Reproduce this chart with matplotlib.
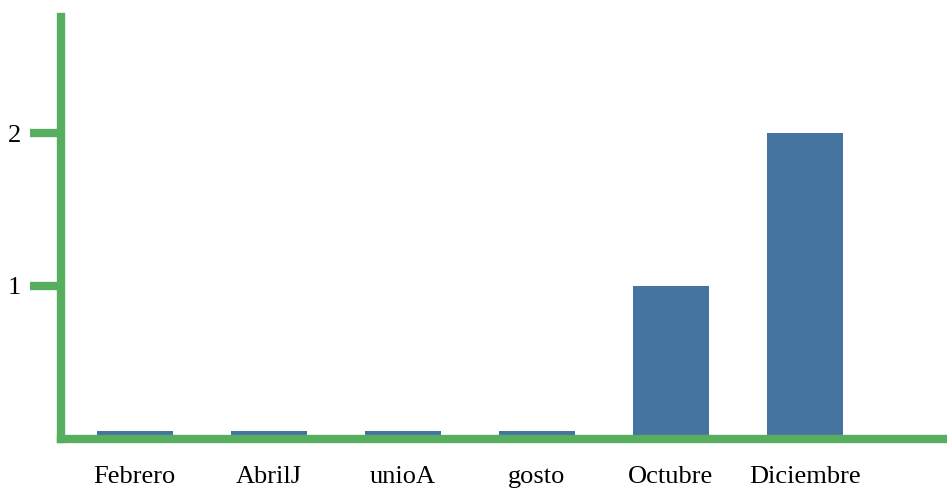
import matplotlib
matplotlib.use("Agg")
import matplotlib.pyplot as plt

categories = ["Febrero", "AbrilJ", "unioA", "gosto", "Octubre", "Diciembre"]
values = [0.05, 0.05, 0.05, 0.05, 1, 2]
yticks = [1, 2]

green = "#56ae5e"
blue = "#44749f"

fig = plt.figure(figsize=(9.47, 4.95), dpi=100)
ax = fig.add_axes([61/947, 1 - 438.5/495, 1 - 61/947, (438.5 - 17)/495])
x = list(range(len(categories)))
ax.bar(x, values, width=0.567, color=blue, zorder=1)
ax.set_xlim(-0.55, 6.06)
ax.set_ylim(0, 2.76)
for s in ["top", "right"]:
    ax.spines[s].set_visible(False)
for s in ["left", "bottom"]:
    ax.spines[s].set_color(green)
    ax.spines[s].set_linewidth(6.0)
    ax.spines[s].set_zorder(3)
ax.set_xticks(x)
ax.set_xticklabels(categories)
ax.set_yticks(yticks)
ax.set_yticklabels([str(t) for t in yticks])
ax.tick_params(axis="x", length=0, pad=20, labelsize=19)
ax.tick_params(axis="y", length=22, width=6, color=green, pad=7, labelsize=19)
for lab in ax.get_xticklabels() + ax.get_yticklabels():
    lab.set_fontfamily("Liberation Serif")
fig.savefig("out.png", dpi=100)
